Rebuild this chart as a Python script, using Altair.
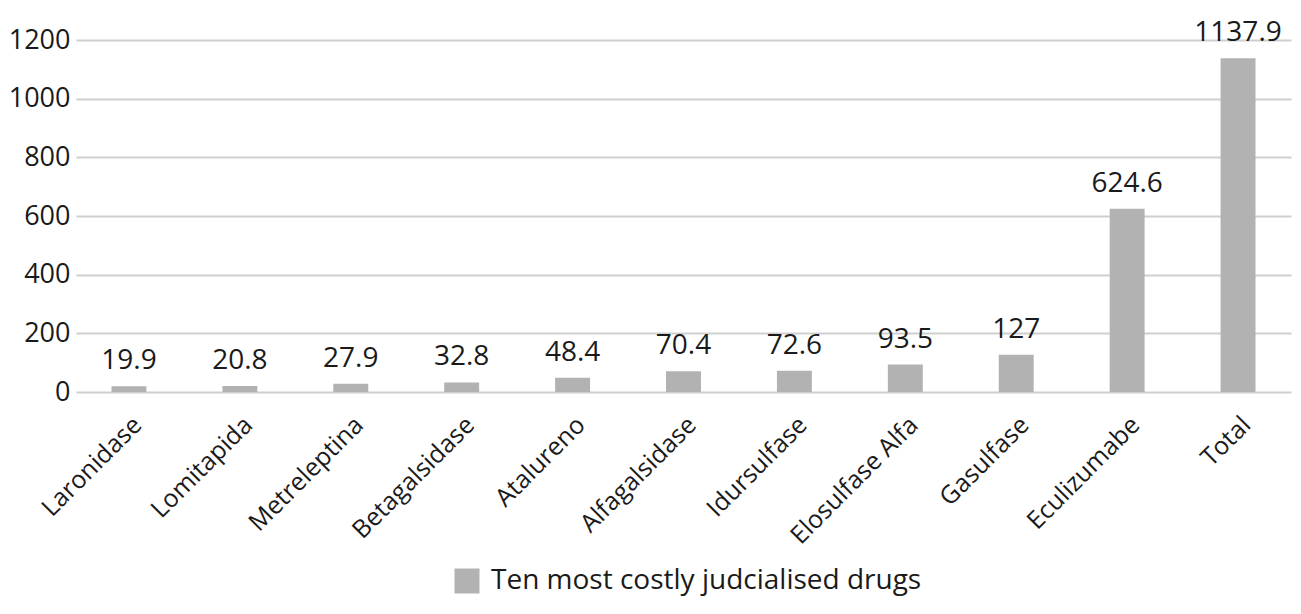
import altair as alt
import pandas as pd

drugs = ["Laronidase", "Lomitapida", "Metreleptina", "Betagalsidase", "Atalureno",
         "Alfagalsidase", "Idursulfase", "Elosulfase Alfa", "Gasulfase", "Eculizumabe", "Total"]
costs = [19.9, 20.8, 27.9, 32.8, 48.4, 70.4, 72.6, 93.5, 127, 624.6, 1137.9]
labels = ["19.9", "20.8", "27.9", "32.8", "48.4", "70.4", "72.6", "93.5", "127", "624.6", "1137.9"]
series = "Ten most costly judcialised drugs"
y_ticks = [0, 200, 400, 600, 800, 1000, 1200]

df = pd.DataFrame({"drug": drugs, "cost": costs, "label": labels, "series": series})

FONT = "Open Sans"
TXT = "#1a1a1a"
x = alt.X("drug:N", sort=drugs, title=None,
          scale=alt.Scale(paddingInner=0.685, paddingOuter=0.32),
          axis=alt.Axis(labelAngle=-45, labelFontSize=25, labelFont=FONT, labelColor=TXT,
                        ticks=False, domain=False, labelPadding=20))
y = alt.Y("cost:Q", title=None,
          scale=alt.Scale(domain=[0, 1200]),
          axis=alt.Axis(values=y_ticks, format="d", labelFontSize=27,
                        labelFont=FONT, labelColor=TXT, ticks=False, domain=False,
                        gridColor="#cfcfcf", gridWidth=2, labelPadding=6))

bars = alt.Chart(df).mark_bar(color="#b2b2b2").encode(
    x=x, y=y,
    color=alt.Color("series:N", scale=alt.Scale(range=["#b2b2b2"]), title=None,
                    legend=alt.Legend(orient="none", legendX=377, legendY=527, padding=0,
                                      symbolType="square", symbolSize=625,
                                      symbolStrokeWidth=0, labelFontSize=28,
                                      labelFont=FONT, labelColor=TXT,
                                      labelLimit=700, symbolOffset=0, labelOffset=10)),
)

text = alt.Chart(df).mark_text(dy=-17, baseline="alphabetic", fontSize=28, font=FONT, color=TXT).encode(
    x=alt.X("drug:N", sort=drugs), y="cost:Q", text="label:N"
)

chart = (bars + text).properties(
    width=1215, height=352,
    autosize=alt.AutoSizeParams(type="none"),
    padding={"left": 68, "top": 32, "right": 2, "bottom": 214},
).configure_view(stroke=None)

chart.save("out.html", embed_options={"renderer": "svg", "actions": False})
